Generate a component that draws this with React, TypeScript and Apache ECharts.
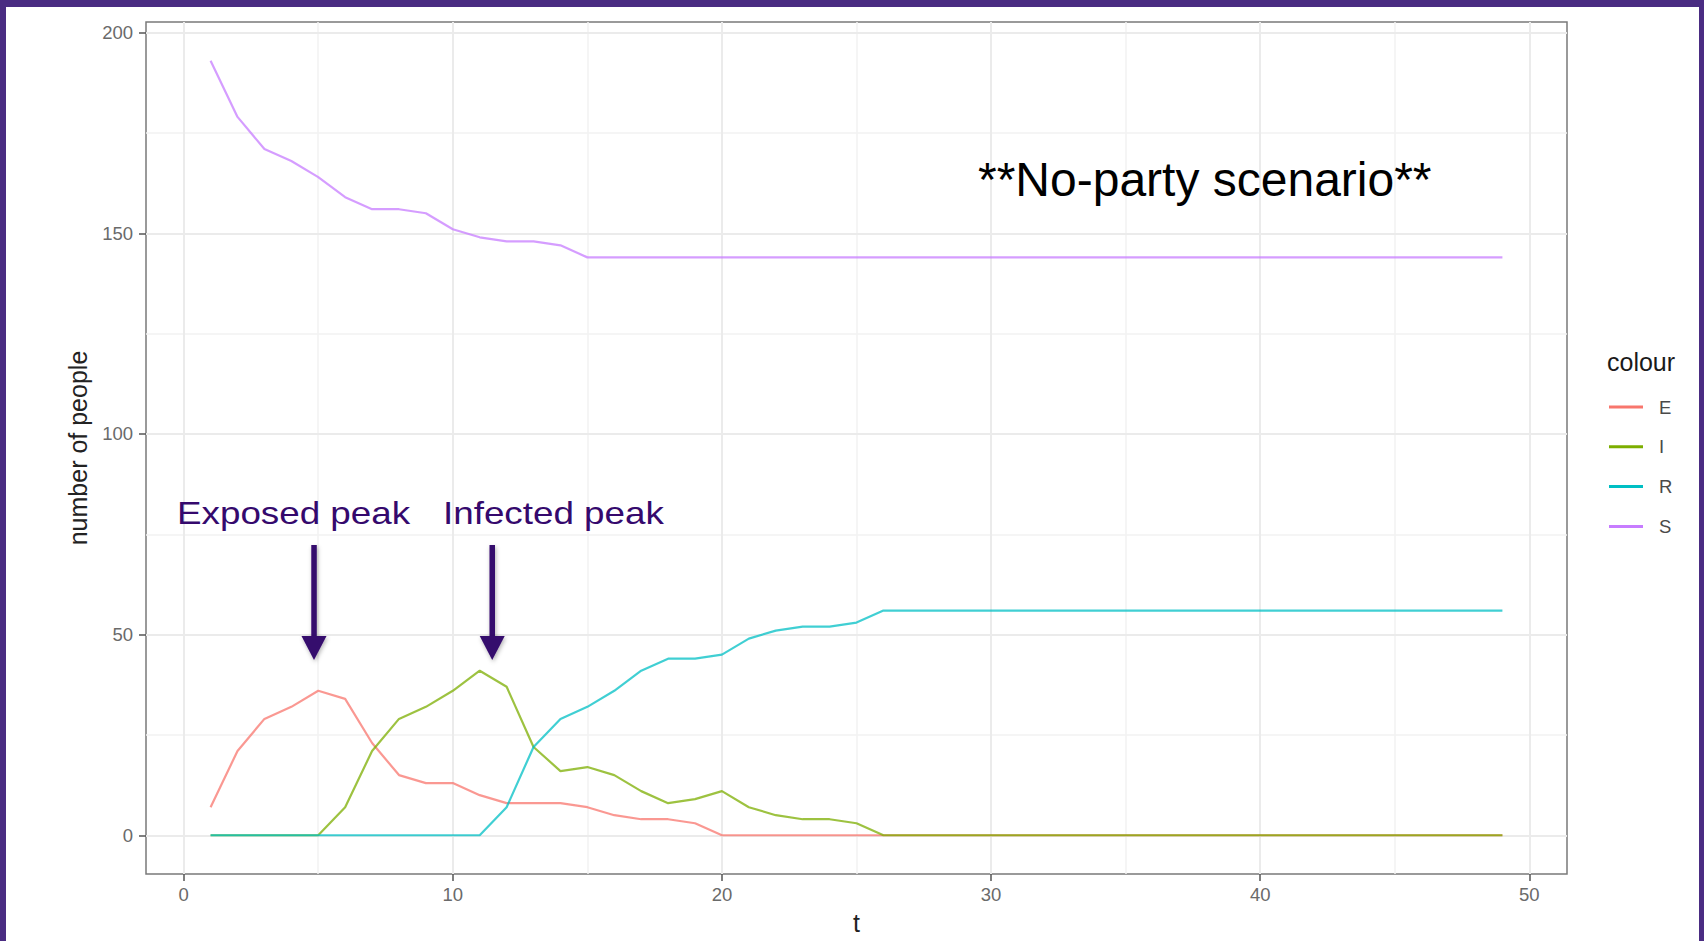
import React, { useEffect, useRef } from "react";
import * as echarts from "echarts";

// time steps
const T = [
  1, 2, 3, 4, 5, 6, 7, 8, 9, 10, 11, 12, 13, 14, 15, 16, 17, 18, 19, 20, 21, 22, 23, 24, 25,
  26, 27, 28, 29, 30, 31, 32, 33, 34, 35, 36, 37, 38, 39, 40, 41, 42, 43, 44, 45, 46, 47, 48, 49,
];
// Exposed
const E = [
  7, 21, 29, 32, 36, 34, 23, 15, 13, 13, 10, 8, 8, 8, 7, 5, 4, 4, 3, 0, 0, 0, 0, 0, 0,
  0, 0, 0, 0, 0, 0, 0, 0, 0, 0, 0, 0, 0, 0, 0, 0, 0, 0, 0, 0, 0, 0, 0, 0,
];
// Infected
const I = [
  0, 0, 0, 0, 0, 7, 21, 29, 32, 36, 41, 37, 22, 16, 17, 15, 11, 8, 9, 11, 7, 5, 4, 4, 3,
  0, 0, 0, 0, 0, 0, 0, 0, 0, 0, 0, 0, 0, 0, 0, 0, 0, 0, 0, 0, 0, 0, 0, 0,
];
// Recovered
const R = [
  0, 0, 0, 0, 0, 0, 0, 0, 0, 0, 0, 7, 22, 29, 32, 36, 41, 44, 44, 45, 49, 51, 52, 52, 53,
  56, 56, 56, 56, 56, 56, 56, 56, 56, 56, 56, 56, 56, 56, 56, 56, 56, 56, 56, 56, 56, 56, 56, 56,
];
// Susceptible
const S = [
  193, 179, 171, 168, 164, 159, 156, 156, 155, 151, 149, 148, 148, 147, 144, 144, 144, 144, 144, 144, 144, 144, 144, 144, 144,
  144, 144, 144, 144, 144, 144, 144, 144, 144, 144, 144, 144, 144, 144, 144, 144, 144, 144, 144, 144, 144, 144, 144, 144,
];

const SERIES_NAMES = ["E", "I", "R", "S"];
const COLORS = ["#F8766D", "#7CAE00", "#00BFC4", "#C77CFF"];

const X_MAJOR = [0, 10, 20, 30, 40, 50];
const X_MINOR = [5, 15, 25, 35, 45];
const Y_MAJOR = [0, 50, 100, 150, 200];
const Y_MINOR = [25, 75, 125, 175];

const TITLE = "**No-party scenario**";
const ANNOT_E = "Exposed peak";
const ANNOT_I = "Infected peak";

export default function App() {
  const ref = useRef<HTMLDivElement>(null);

  useEffect(() => {
    const chart = echarts.init(ref.current!, null, { renderer: "svg" });
    const font = "'Liberation Sans', Arial, Helvetica, sans-serif";
    const values = [E, I, R, S];
    const purple = "#35096d";

    const minorStyle = { color: "#f2f2f2", width: 1.5, type: "solid" };
    const majorStyle = { color: "#ebebeb", width: 2, type: "solid" };
    const gridLines = [
      ...X_MINOR.map((v) => ({ xAxis: v, lineStyle: minorStyle })),
      ...Y_MINOR.map((v) => ({ yAxis: v, lineStyle: minorStyle })),
      ...X_MAJOR.map((v) => ({ xAxis: v, lineStyle: majorStyle })),
      ...Y_MAJOR.map((v) => ({ yAxis: v, lineStyle: majorStyle })),
    ];

    const arrowShadow = {
      shadowBlur: 4,
      shadowColor: "rgba(0,0,0,0.3)",
      shadowOffsetX: 1,
      shadowOffsetY: 2,
    };

    chart.setOption({
      animation: false,
      grid: {
        left: 146,
        right: 137,
        top: 22,
        bottom: 67,
        show: true,
        borderColor: "#7a7a7a",
        borderWidth: 1.5,
        backgroundColor: "#ffffff",
      },
      xAxis: {
        type: "value",
        min: -1.4,
        max: 51.4,
        name: "t",
        nameLocation: "middle",
        nameGap: 36,
        nameTextStyle: { fontSize: 25, color: "#222", fontFamily: font },
        axisLine: { show: false, onZero: false },
        axisTick: {
          show: true,
          customValues: X_MAJOR,
          length: 7,
          lineStyle: { color: "#555", width: 1.5 },
        },
        axisLabel: {
          customValues: X_MAJOR,
          margin: 11,
          fontSize: 18.5,
          color: "#6a6a6a",
          fontFamily: font,
        },
        splitLine: { show: false },
      },
      yAxis: {
        type: "value",
        min: -9.65,
        max: 202.65,
        name: "number of people",
        nameLocation: "middle",
        nameGap: 56,
        nameTextStyle: { fontSize: 25, color: "#222", fontFamily: font },
        axisLine: { show: false, onZero: false },
        axisTick: {
          show: true,
          customValues: Y_MAJOR,
          length: 7,
          lineStyle: { color: "#555", width: 1.5 },
        },
        axisLabel: {
          customValues: Y_MAJOR,
          margin: 13,
          fontSize: 18.5,
          color: "#6a6a6a",
          fontFamily: font,
        },
        splitLine: { show: false },
      },
      legend: {
        orient: "vertical",
        left: 1609,
        top: 397,
        padding: 0,
        itemWidth: 34,
        itemHeight: 3,
        itemGap: 19.8,
        icon: "rect",
        selectedMode: false,
        data: SERIES_NAMES,
        textStyle: {
          fontSize: 18.5,
          lineHeight: 20,
          color: "#4a4a4a",
          fontFamily: font,
          padding: [0, 0, 0, 11],
        },
      },
      series: [
        {
          type: "line",
          name: "grid",
          data: [],
          silent: true,
          z: 1,
          markLine: {
            silent: true,
            z: 1,
            symbol: ["none", "none"],
            label: { show: false },
            emphasis: { disabled: true },
            data: gridLines,
          },
        },
        ...SERIES_NAMES.map((name, k) => ({
          type: "line",
          name,
          data: T.map((t, i) => [t, values[k][i]]),
          showSymbol: false,
          symbol: "none",
          color: COLORS[k],
          lineStyle: { width: 2.2, color: COLORS[k], opacity: 0.75 },
          z: 3,
        })),
      ],
      graphic: [
        {
          type: "text",
          x: 978,
          y: 179,
          z: 10,
          style: {
            text: TITLE,
            fontSize: 48,
            fontFamily: font,
            fill: "#000",
            align: "left",
            verticalAlign: "middle",
          },
        },
        {
          type: "text",
          x: 1607,
          y: 362,
          z: 10,
          style: {
            text: "colour",
            fontSize: 25,
            fontFamily: font,
            fill: "#1a1a1a",
            align: "left",
            verticalAlign: "middle",
          },
        },
        {
          type: "text",
          x: 177,
          y: 513,
          scaleX: 1.15,
          z: 10,
          style: {
            text: ANNOT_E,
            fontSize: 32,
            fontFamily: font,
            fill: purple,
            align: "left",
            verticalAlign: "middle",
          },
        },
        {
          type: "text",
          x: 443,
          y: 513,
          scaleX: 1.15,
          z: 10,
          style: {
            text: ANNOT_I,
            fontSize: 32,
            fontFamily: font,
            fill: purple,
            align: "left",
            verticalAlign: "middle",
          },
        },
        {
          type: "rect",
          z: 10,
          shape: { x: 311.3, y: 545, width: 5.5, height: 93 },
          style: { fill: purple, ...arrowShadow },
        },
        {
          type: "polygon",
          z: 10,
          shape: { points: [[301.5, 636], [326.5, 636], [314, 660]] },
          style: { fill: purple, ...arrowShadow },
        },
        {
          type: "rect",
          z: 10,
          shape: { x: 489.5, y: 545, width: 5.5, height: 93 },
          style: { fill: purple, ...arrowShadow },
        },
        {
          type: "polygon",
          z: 10,
          shape: { points: [[479.7, 636], [504.7, 636], [492.2, 660]] },
          style: { fill: purple, ...arrowShadow },
        },
      ],
    });

    return () => chart.dispose();
  }, []);

  return (
    <div
      style={{
        position: "absolute",
        left: 0,
        top: 0,
        width: 1704,
        height: 941,
        background: "#4a2c82",
        overflow: "hidden",
      }}
    >
      <div
        style={{
          position: "absolute",
          left: 6,
          top: 7,
          width: 1693,
          height: 934,
          background: "#ffffff",
        }}
      />
      <div
        ref={ref}
        style={{ position: "absolute", left: 0, top: 0, width: 1704, height: 941 }}
      />
    </div>
  );
}
